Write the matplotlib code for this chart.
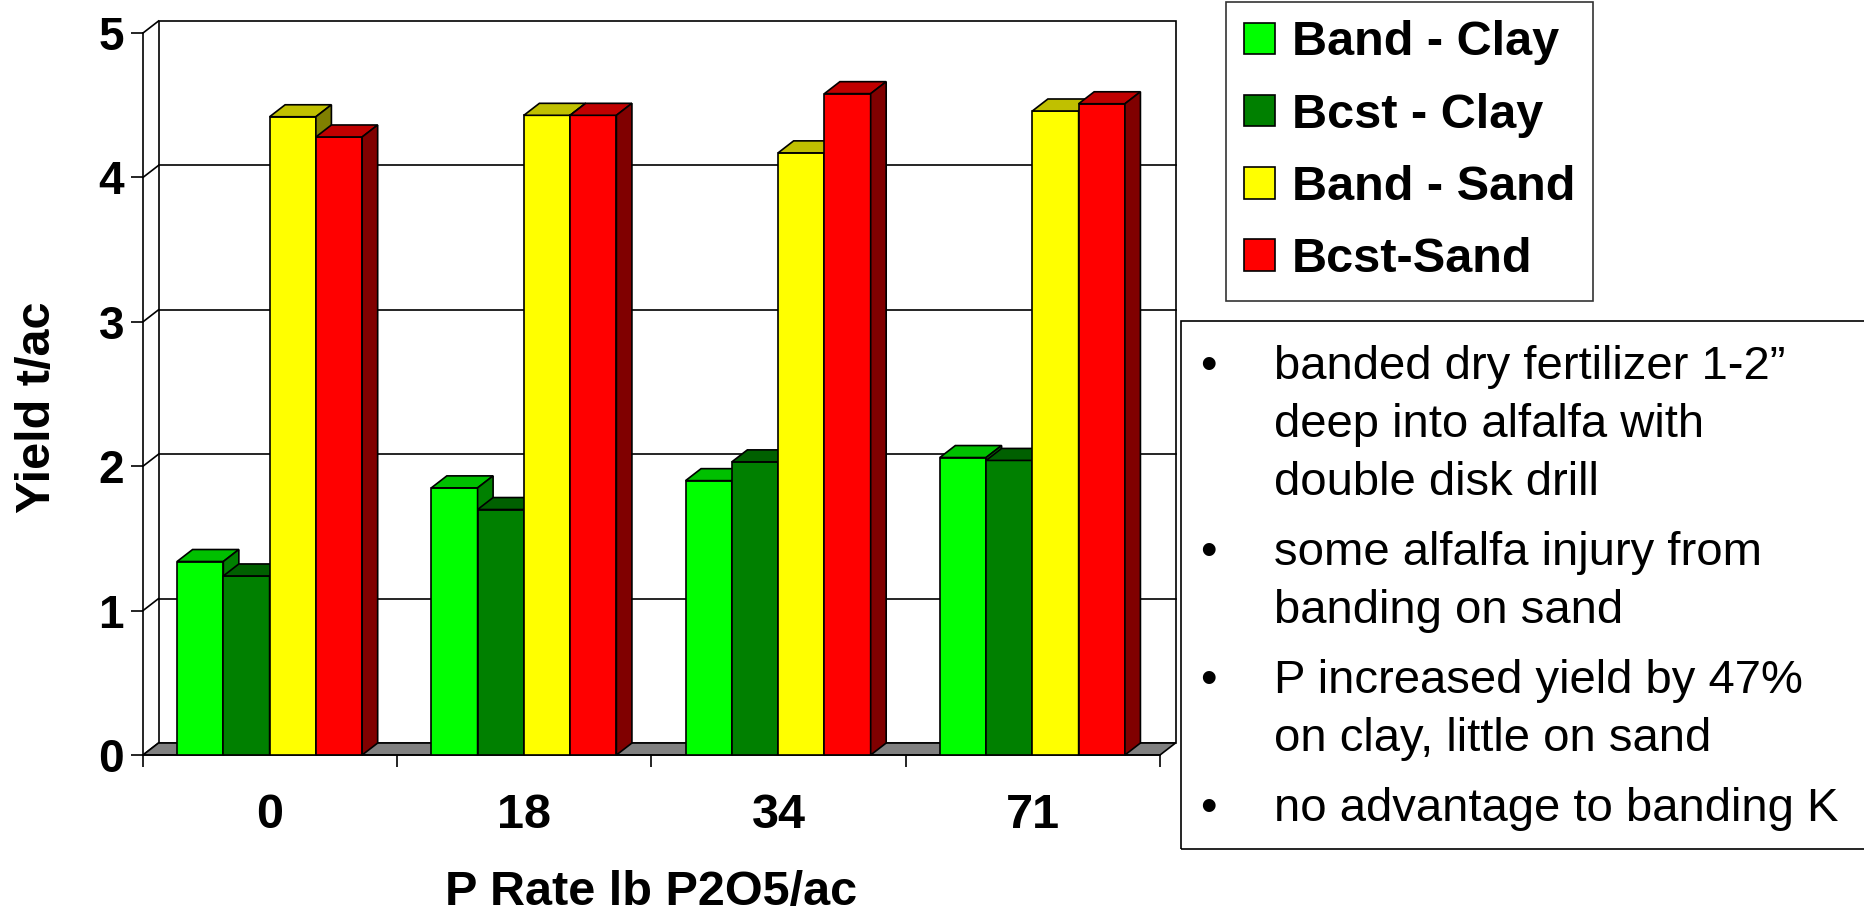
import matplotlib
matplotlib.use('Agg')
import matplotlib.pyplot as plt
from matplotlib.patches import Polygon, Rectangle

plt.rcParams['font.family'] = ['Liberation Sans', 'DejaVu Sans']

# data
p_rates = ['0', '18', '34', '71']
series_names = ['Band - Clay', 'Bcst - Clay', 'Band - Sand', 'Bcst-Sand']
band_clay = [1.34, 1.85, 1.90, 2.06]
bcst_clay = [1.24, 1.70, 2.03, 2.04]
band_sand = [4.42, 4.43, 4.17, 4.46]
bcst_sand = [4.28, 4.43, 4.58, 4.51]
notes = [
    ['banded dry fertilizer 1-2\u201d', 'deep into alfalfa with', 'double disk drill'],
    ['some alfalfa injury from', 'banding on sand'],
    ['P increased yield by 47%', 'on clay, little on sand'],
    ['no advantage to banding K'],
]

# front / top / side colours of each series
face_cols = ['#00FF00', '#008000', '#FFFF00', '#FF0000']
top_cols = ['#00C000', '#006000', '#C0C000', '#C00000']
side_cols = ['#008000', '#004000', '#808000', '#800000']

W, H = 1864, 914
fig = plt.figure(figsize=(W / 100, H / 100), dpi=100)
ax = fig.add_axes([143 / W, 1 - 755 / H, (1160 - 143) / W, (755 - 33) / H])
ax.set_xlim(0, 4)
ax.set_ylim(0, 5)

dx, dy = 0.061, 0.083   # 3D depth offset in data units
lw = 1.2

# back wall, gridlines, side wall, floor
ax.add_patch(Rectangle((dx, dy), 4, 5, facecolor='white', edgecolor='black',
                       lw=lw, zorder=1, clip_on=False))
for k in range(1, 5):
    ax.plot([dx, 4 + dx], [k + dy, k + dy], color='black', lw=lw, zorder=1.1, clip_on=False)
for k in range(0, 6):
    ax.plot([0, dx], [k, k + dy], color='black', lw=lw, zorder=1.1, clip_on=False)
ax.add_patch(Polygon([(0, 0), (4, 0), (4 + dx, dy), (dx, dy)], closed=True,
                     facecolor='#808080', edgecolor='black', lw=lw, zorder=1.5, clip_on=False))

all_series = [band_clay, bcst_clay, band_sand, bcst_sand]
bw = 0.182
start = 0.134
handles = []
for j, vals in enumerate(all_series):
    xs = [i + start + j * bw for i in range(len(p_rates))]
    bars = ax.bar(xs, vals, width=bw, align='edge', color=face_cols[j],
                  edgecolor='black', lw=lw, zorder=3 + j, label=series_names[j])
    handles.append(bars)
    for x, v in zip(xs, vals):
        ax.add_patch(Polygon([(x, v), (x + bw, v), (x + bw + dx, v + dy), (x + dx, v + dy)],
                             closed=True, facecolor=top_cols[j], edgecolor='black',
                             lw=lw, zorder=3 + j, clip_on=False))
        ax.add_patch(Polygon([(x + bw, 0), (x + bw + dx, dy), (x + bw + dx, v + dy), (x + bw, v)],
                             closed=True, facecolor=side_cols[j], edgecolor='black',
                             lw=lw, zorder=3 + j, clip_on=False))

for s in ['top', 'right']:
    ax.spines[s].set_visible(False)
ax.spines['left'].set_linewidth(lw)
ax.spines['bottom'].set_linewidth(lw)
ax.spines['left'].set_zorder(2)
ax.spines['bottom'].set_zorder(2)

ax.set_yticks(range(6))
ax.tick_params(axis='y', direction='out', length=8.6, width=lw, pad=5,
               labelsize=33)
for t in ax.get_yticklabels():
    t.set_fontweight('bold')

ax.set_xticks(range(5))
ax.set_xticklabels([''] * 5)
ax.tick_params(axis='x', which='major', direction='out', length=8.6, width=lw)
ax.set_xticks([i + 0.5 for i in range(len(p_rates))], labels=p_rates, minor=True)
ax.tick_params(axis='x', which='minor', length=0, pad=27, labelsize=35)
for t in ax.get_xticklabels(minor=True):
    t.set_fontweight('bold')

fig.text(38 / W, 1 - 407 / H, 'Yield t/ac', rotation=90, ha='center', va='center',
         fontsize=35, fontweight='bold')
fig.text(651 / W, 1 - 892 / H, 'P Rate lb P2O5/ac', ha='center', va='center',
         fontsize=35, fontweight='bold')

leg = fig.legend(handles=handles, labels=series_names, loc='upper left',
                 bbox_to_anchor=(1226 / W, 1 - 2 / H), frameon=True, fancybox=False,
                 edgecolor='black', borderaxespad=0, handlelength=0.62,
                 handleheight=0.62, handletextpad=0.35, labelspacing=0.56,
                 borderpad=0.38, prop={'size': 35, 'weight': 'bold'})
leg.get_frame().set_linewidth(lw)

# notes box
fig.add_artist(Rectangle((1181 / W, 1 - 849 / H), 1.0, (849 - 321) / H,
                         transform=fig.transFigure, fill=False, edgecolor='black',
                         lw=lw, clip_on=False))
y = 379
for lines in notes:
    fig.text(1208 / W, 1 - y / H, '\u2022', ha='center', va='baseline', fontsize=34)
    for n, line in enumerate(lines):
        if n > 0:
            y += 58
        fig.text(1274 / W, 1 - y / H, line, ha='left', va='baseline', fontsize=34)
    y += 70

fig.savefig('out.png', dpi=100)
